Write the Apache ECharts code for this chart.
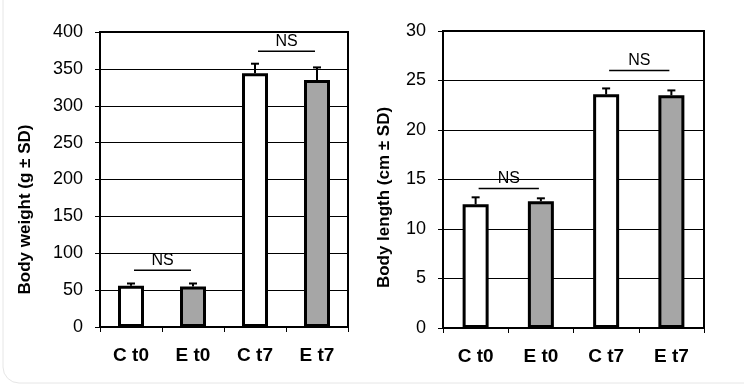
<!DOCTYPE html>
<html>
<head>
<meta charset="utf-8">
<script src="https://cdn.jsdelivr.net/npm/echarts@6/dist/echarts.min.js"></script>
<style>html,body{margin:0;padding:0;background:#fff}#c{width:744px;height:389px}</style>
</head>
<body>
<div id="c"></div>
<script>
const categories = ['C t0', 'E t0', 'C t7', 'E t7'];
const weightMean = [56, 55, 344, 335];
const weightSD = [3, 4, 13, 17];
const lengthMean = [12.5, 12.8, 23.6, 23.5];
const lengthSD = [0.7, 0.3, 0.6, 0.5];
// NS annotations: [fromCategoryIndex, toCategoryIndex, yValue]
const weightNS = [[0, 1, 77], [2, 3, 374]];
const lengthNS = [[0, 1, 14.1], [2, 3, 26]];
const weightTicks = { min: 0, max: 400, interval: 50 };
const lengthTicks = { min: 0, max: 30, interval: 5 };
const fills = ['#ffffff', '#a6a6a6', '#ffffff', '#a6a6a6'];

const FONT = '"Liberation Sans", Arial, sans-serif';

function xAxisCfg(gi) {
  return {
    type: 'category', gridIndex: gi, data: categories,
    axisLine: { lineStyle: { color: '#000', width: 2 } },
    axisTick: { show: true, length: 5, lineStyle: { color: '#000', width: 1 } },
    axisLabel: { color: '#000', fontFamily: FONT, fontWeight: 'bold', fontSize: 19, margin: 19 }
  };
}
function yAxisCfg(gi, t, name, pad, gap) {
  return {
    type: 'value', gridIndex: gi, min: t.min, max: t.max, interval: t.interval,
    name: name, nameLocation: 'middle', nameGap: gap,
    nameTextStyle: { color: '#000', fontFamily: FONT, fontWeight: 'bold', fontSize: 17, padding: pad },
    axisLine: { show: true, lineStyle: { color: '#000', width: 2 } },
    axisTick: { show: true, length: 5, lineStyle: { color: '#000', width: 1 } },
    axisLabel: { color: '#000', fontFamily: FONT, fontSize: 18, margin: 17 },
    splitLine: { show: true, lineStyle: { color: '#000', width: 1 } }
  };
}
function barSeries(gi, vals) {
  return {
    type: 'bar', xAxisIndex: gi, yAxisIndex: gi, barWidth: 26,
    data: vals.map((v, i) => ({ value: v, itemStyle: { color: fills[i] } })),
    itemStyle: { borderColor: '#000', borderWidth: 3 },
    silent: true, z: 3
  };
}
function errSeries(gi, vals, sds) {
  return {
    type: 'custom', xAxisIndex: gi, yAxisIndex: gi, z: 2, silent: true,
    data: vals.map((v, i) => [i, v, v + sds[i]]),
    renderItem: function (params, api) {
      const p0 = api.coord([api.value(0), api.value(1)]);
      const p1 = api.coord([api.value(0), api.value(2)]);
      return {
        type: 'group', children: [
          { type: 'line', shape: { x1: p0[0], y1: p0[1], x2: p1[0], y2: p1[1] }, style: { stroke: '#000', lineWidth: 2 } },
          { type: 'line', shape: { x1: p1[0] - 4, y1: p1[1], x2: p1[0] + 4, y2: p1[1] }, style: { stroke: '#000', lineWidth: 2 } }
        ]
      };
    }
  };
}
function nsSeries(gi, ns) {
  return {
    type: 'custom', xAxisIndex: gi, yAxisIndex: gi, z: 4, silent: true,
    data: ns,
    renderItem: function (params, api) {
      const a = api.coord([api.value(0), api.value(2)]);
      const b = api.coord([api.value(1), api.value(2)]);
      const x1 = a[0] + 3, x2 = b[0] - 2;
      return {
        type: 'group', children: [
          { type: 'line', shape: { x1: x1, y1: a[1], x2: x2, y2: a[1] }, style: { stroke: '#000', lineWidth: 1.5 } },
          { type: 'text', style: { x: (x1 + x2) / 2, y: a[1] - 2, text: 'NS', textAlign: 'center', textVerticalAlign: 'bottom', fill: '#000', font: '16px ' + FONT } }
        ]
      };
    }
  };
}

const chart = echarts.init(document.getElementById('c'));
chart.setOption({
  animation: false,
  backgroundColor: '#fff',
  graphic: [
    { type: 'rect', shape: { x: 3, y: -60, width: 900, height: 443, r: 16 }, style: { fill: 'none', stroke: '#e6e6e6', lineWidth: 1 }, silent: true, z: -10 }
  ],
  grid: [
    { left: 100, right: 396, top: 32, bottom: 62, show: true, borderColor: '#000', borderWidth: 2, backgroundColor: 'transparent' },
    { left: 443, right: 40, top: 31, bottom: 61, show: true, borderColor: '#000', borderWidth: 2, backgroundColor: 'transparent' }
  ],
  xAxis: [xAxisCfg(0), xAxisCfg(1)],
  yAxis: [
    yAxisCfg(0, weightTicks, 'Body weight (g ± SD)', [0, 60, 0, 0], 66),
    yAxisCfg(1, lengthTicks, 'Body length (cm ± SD)', [0, 36, 0, 0], 50)
  ],
  series: [
    barSeries(0, weightMean), errSeries(0, weightMean, weightSD), nsSeries(0, weightNS),
    barSeries(1, lengthMean), errSeries(1, lengthMean, lengthSD), nsSeries(1, lengthNS)
  ]
});
</script>
</body>
</html>
